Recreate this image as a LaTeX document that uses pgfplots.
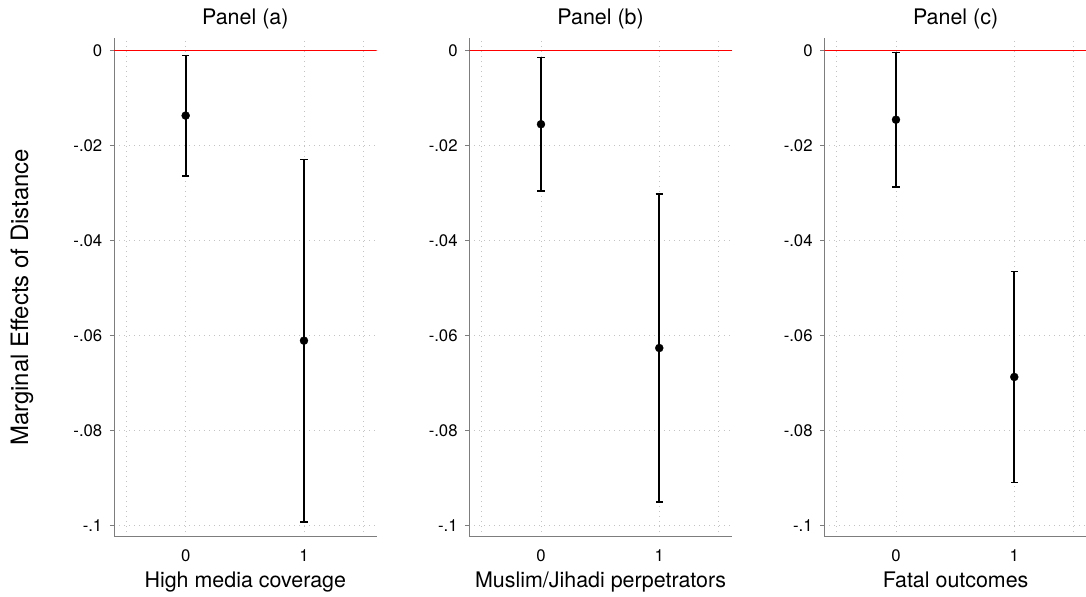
\documentclass[border=0pt]{standalone}
\usepackage{fontspec}
\setmainfont{TeX Gyre Heros}
\usepackage{pgfplots}
\pgfplotsset{compat=1.18}
\usepackage{pgfplotstable}

\pgfplotstableread{
x y e
0 -0.01368 0.01272
1 -0.06110 0.03820
}\dataA
\pgfplotstableread{
x y e
0 -0.01550 0.01410
1 -0.06265 0.03245
}\dataB
\pgfplotstableread{
x y e
0 -0.01455 0.01418
1 -0.06875 0.02225
}\dataC

\definecolor{axgray}{RGB}{125,125,125}
\definecolor{gridgray}{RGB}{195,195,195}

\pgfplotsset{
  panel/.style={
    scale only axis, width=262.6bp, height=498.4bp,
    xmin=-0.606, xmax=1.614, ymin=-0.1024, ymax=0.0026,
    axis x line*=bottom, axis y line*=left,
    axis line style={axgray, line width=1bp},
    xtick={-0.5,0,1,1.5}, xticklabels={,0,1,},
    xtick style={draw=none},
    ytick={-0.1,-0.08,-0.06,-0.04,-0.02,0},
    yticklabels={-.1,-.08,-.06,-.04,-.02,0},
    ytick style={axgray, line width=0.8bp},
    major tick length=4bp, tick align=outside,
    grid=major,
    major grid style={gridgray, line width=0.8bp, dash pattern=on 0.8bp off 4.2bp},
    ticklabel style={font=\fontsize{16.8}{18}\selectfont},
    yticklabel style={anchor=east, inner sep=0pt, xshift=-7.5bp},
    xticklabel style={anchor=base, inner sep=0pt, yshift=-20.4bp},
    title style={at={(axis description cs:0.5,1)}, anchor=base, yshift=8.3bp,
      font=\fontsize{21.5}{24}\selectfont, inner sep=0pt},
    xlabel style={at={(axis description cs:0.5,0)}, anchor=base, yshift=-50.6bp,
      font=\fontsize{21.5}{24}\selectfont, inner sep=0pt},
  },
  ci/.style={black, only marks, mark=*, mark size=4bp,
    mark options={fill=black, draw=black},
    error bars/.cd, y dir=both, y explicit,
    error bar style={line width=1.8bp, black},
    error mark options={rotate=90, mark size=3.6bp, line width=1.3bp, black}},
  zeroline/.style={red, line width=1.6bp, forget plot},
}

\begin{document}
\begin{tikzpicture}
\useasboundingbox (0,0) rectangle (1086bp,597bp);

\begin{axis}[panel, at={(114bp,60.3bp)}, anchor=south west,
  title={Panel (a)}, xlabel={High media coverage},
  ylabel={Marginal Effects of Distance},
  ylabel style={at={(axis description cs:-0.3503,0.48)}, anchor=center,
    font=\fontsize{24}{26}\selectfont, inner sep=0pt}]
  \addplot[zeroline] coordinates {(-0.606,0) (1.614,0)};
  \addplot[ci] table[x=x, y=y, y error=e] {\dataA};
\end{axis}

\begin{axis}[panel, at={(469.3bp,60.3bp)}, anchor=south west,
  title={Panel (b)}, xlabel={Muslim/Jihadi perpetrators}]
  \addplot[zeroline] coordinates {(-0.606,0) (1.614,0)};
  \addplot[ci] table[x=x, y=y, y error=e] {\dataB};
\end{axis}

\begin{axis}[panel, at={(824.3bp,60.3bp)}, anchor=south west,
  title={Panel (c)}, xlabel={Fatal outcomes}]
  \addplot[zeroline] coordinates {(-0.606,0) (1.614,0)};
  \addplot[ci] table[x=x, y=y, y error=e] {\dataC};
\end{axis}
\end{tikzpicture}
\end{document}
